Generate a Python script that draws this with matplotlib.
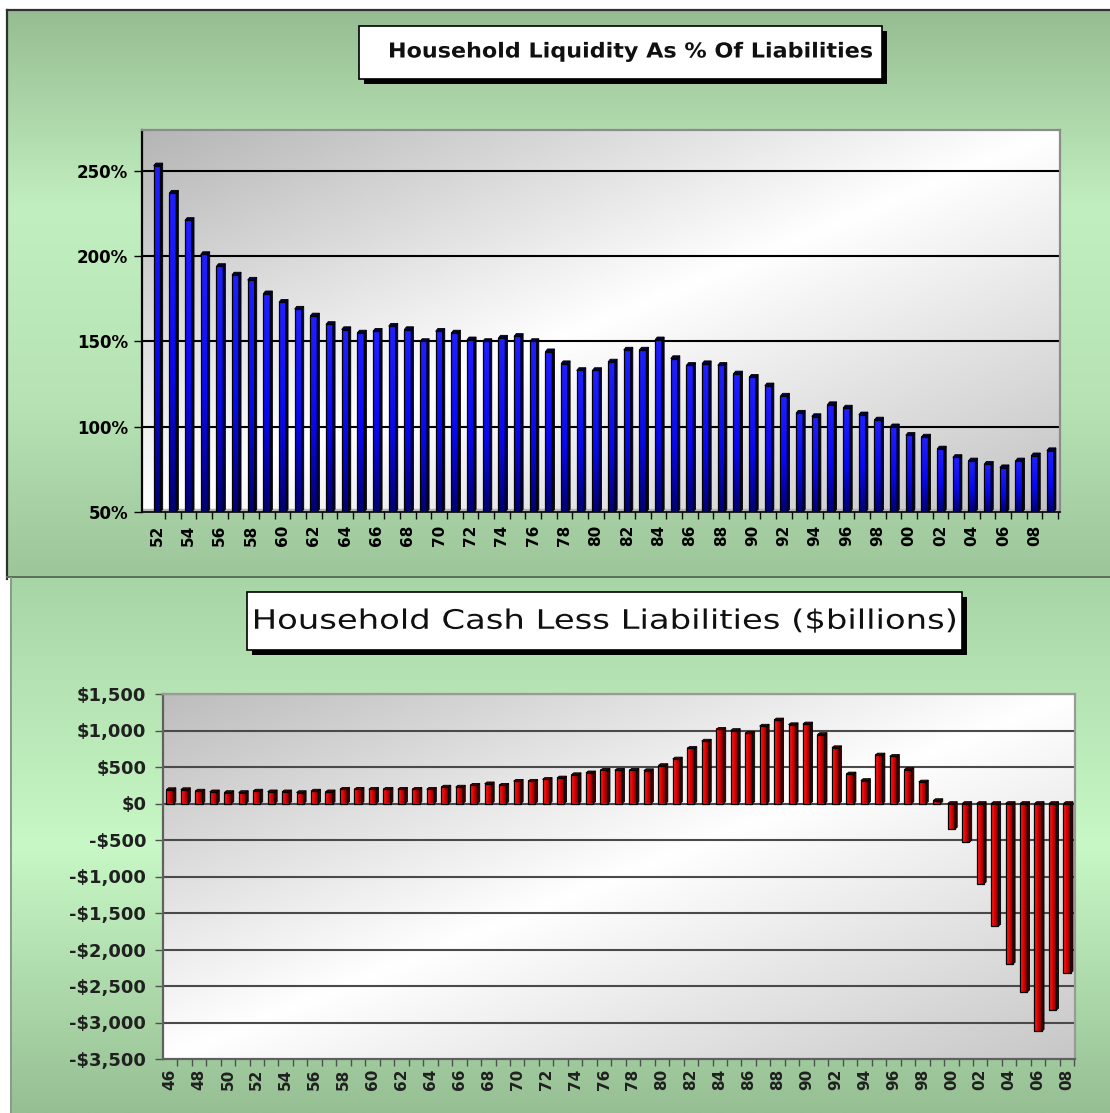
import matplotlib.pyplot as plt
import numpy as np
from matplotlib.patches import Rectangle, Polygon, PathPatch
from matplotlib.colors import to_rgb
from matplotlib.textpath import TextPath
from matplotlib.font_manager import FontProperties
from matplotlib.transforms import Affine2D

W, H = 1110, 1113

# liquidity as % of liabilities, 1952-2009
liq_years = [f'{y % 100:02d}' for y in range(1952, 2010)]
liq_pct = [253, 237, 221, 201, 194, 189, 186, 178, 173, 169,
           165, 160, 157, 155, 156, 159, 157, 150, 156, 155,
           151, 150, 152, 153, 150, 144, 137, 133, 133, 138,
           145, 145, 151, 140, 136, 137, 136, 131, 129, 124,
           118, 108, 106, 113, 111, 107, 104, 100, 95, 94,
           87, 82, 80, 78, 76, 80, 83, 86]
liq_ticks = [50, 100, 150, 200, 250]

# cash less liabilities, $bn, 1946-2008
cash_years = [f'{y % 100:02d}' for y in range(1946, 2009)]
cash_bn = [190, 190, 170, 160, 150, 150, 170, 160, 160, 150,
           170, 160, 195, 195, 195, 195, 195, 195, 195, 225,
           225, 250, 270, 250, 305, 305, 330, 350, 395, 420,
           455, 455, 455, 450, 520, 610, 755, 855, 1015, 1000,
           960, 1060, 1145, 1080, 1090, 945, 765, 405, 315, 665,
           645, 465, 295, 40, -350, -530, -1100, -1680, -2200, -2580,
           -3120, -2830, -2320]
cash_ticks = [-3500, -3000, -2500, -2000, -1500, -1000, -500, 0, 500, 1000, 1500]


def ramp(stops, n=256):
    t = np.linspace(0, 1, n)
    pos = [p for p, _ in stops]
    cols = np.array([to_rgb(c) for _, c in stops])
    return np.stack([np.interp(t, pos, cols[:, k]) for k in range(3)], axis=-1)


def wall_gradient(ax, dark_tl=0.72, dark_br=0.78):
    xx, yy = np.meshgrid(np.linspace(0, 1, 200), np.linspace(0, 1, 200))
    d = (xx + yy) / 2
    g = np.where(d < 0.5, 1 - (1 - dark_tl) * (0.5 - d) * 2, 1 - (1 - dark_br) * (d - 0.5) * 2)
    img = np.dstack([g, g, g])
    ax.imshow(img, extent=(0, 1, 0, 1), transform=ax.transAxes, aspect='auto', zorder=0)


def bars_3d(ax, vals, base, w, dx, dy, grad, side, top, vertical=True):
    for i, v in enumerate(vals):
        x0, x1 = i - w / 2, i + w / 2
        if vertical:
            img = grad[:, None, :]
        else:
            img = grad[None, :, :]
        ax.imshow(img, extent=(x0, x1, min(v, base), max(v, base)), origin='upper',
                  aspect='auto', zorder=3)
        ax.add_patch(Rectangle((x0, min(v, base)), w, abs(v - base), fill=False,
                               edgecolor='black', lw=0.9, zorder=4))
        hi = max(v, base)
        lo = min(v, base)
        ax.add_patch(Polygon([(x1, lo), (x1 + dx, lo + dy), (x1 + dx, hi + dy), (x1, hi)],
                             closed=True, facecolor=side, edgecolor='black', lw=0.6, zorder=4))
        ax.add_patch(Polygon([(x0, hi), (x0 + dx, hi + dy), (x1 + dx, hi + dy), (x1, hi)],
                             closed=True, facecolor=top, edgecolor='black', lw=0.6, zorder=4))


def wide_text(bg, cx, cy, s, width, cap, weight='normal'):
    # text outline stretched to a given width and cap height (bg is in pixel units, y down)
    tp = TextPath((0, 0), s, size=100, prop=FontProperties(family='DejaVu Sans', weight=weight))
    ext = tp.get_extents()
    sx = width / ext.width
    sy = cap / 72.9
    tr = Affine2D().translate(-ext.x0 - ext.width / 2, 0).scale(sx, -sy).translate(cx, cy + cap / 2)
    bg.add_patch(PathPatch(tr.transform_path(tp), facecolor='#101010', lw=0, zorder=4))


def title_box(bg, x, y, w, h):
    bg.add_patch(Rectangle((x + 5, y + 5), w, h, facecolor='black', zorder=2))
    bg.add_patch(Rectangle((x, y), w, h, facecolor='white', edgecolor='black', lw=1.2, zorder=3))


fig = plt.figure(figsize=(W / 100, H / 100), dpi=100)
fig.patch.set_facecolor('white')

# panel backgrounds
bg = fig.add_axes([0, 0, 1, 1])
bg.set_xlim(0, W)
bg.set_ylim(H, 0)
bg.axis('off')
bg.imshow(ramp([(0, '#96bd92'), (0.35, '#c2efc0'), (0.7, '#b6e2b4'), (1, '#9dc69b')])[:, None, :],
          extent=(7, W, 577, 10), aspect='auto', zorder=0)
bg.imshow(ramp([(0, '#a8d5a6'), (0.5, '#c8f8c6'), (1, '#96bf93')])[:, None, :],
          extent=(10, W, H, 578), aspect='auto', zorder=0)
bg.plot([7, 7], [10, 579], color='#303030', lw=1.6, zorder=1)
bg.plot([7, W], [10, 10], color='#303030', lw=1.6, zorder=1)
bg.plot([7, W], [577, 577], color='#5a6e5a', lw=1.4, zorder=1)
bg.plot([11, 11], [578, H], color='#8a9a8a', lw=1.4, zorder=1)

title_box(bg, 359, 26, 523, 53)
wide_text(bg, 631, 50, 'Household Liquidity As % Of Liabilities', 482, 15, weight='bold')
title_box(bg, 247, 592, 715, 58)
wide_text(bg, 605, 619, 'Household Cash Less Liabilities ($billions)', 700, 19.5)
bg.set_xlim(0, W)
bg.set_ylim(H, 0)

# top chart
ax1 = fig.add_axes([142 / W, 1 - 512 / H, 918 / W, 382 / H])
wall_gradient(ax1, 0.71, 0.76)
ax1.axhspan(50, 52, color='#b4b4b4', zorder=1)
for t in liq_ticks[1:]:
    ax1.axhline(t, color='black', lw=1.5, zorder=1)
blue = ramp([(0, '#2020ff'), (0.55, '#0808f0'), (1, '#000070')])
bars_3d(ax1, liq_pct, 50, 0.44, 0.14, 1.6, blue, '#000030', '#00004a')
ax1.set_xlim(-0.96, 57.62)
ax1.set_ylim(50, 274)
ax1.set_yticks(liq_ticks)
ax1.set_yticklabels([f'{t}%' for t in liq_ticks], fontsize=12, fontweight='bold')
ax1.set_xticks(range(0, len(liq_years), 2))
ax1.set_xticklabels(liq_years[::2], rotation=90, fontsize=11, fontweight='bold')
ax1.set_xticks(np.arange(len(liq_years)) + 0.5, minor=True)
ax1.tick_params(axis='x', which='major', length=0, pad=9)
ax1.tick_params(axis='x', which='minor', length=5, width=1, color='black')
ax1.tick_params(axis='y', length=6, width=1, pad=4)
ax1.spines['left'].set(color='black', lw=1.6)
ax1.spines['bottom'].set(color='black', lw=1.2)
ax1.spines['top'].set(color='#8c8c8c', lw=1.6)
ax1.spines['right'].set(color='#8c8c8c', lw=1.6)

# bottom chart
ax2 = fig.add_axes([163 / W, 1 - 1059 / H, 912 / W, 365 / H])
wall_gradient(ax2, 0.74, 0.78)
for t in cash_ticks[1:]:
    ax2.axhline(t, color='#4a4a4a', lw=1.5, zorder=1)
red = ramp([(0, '#ff2a2a'), (0.45, '#e00000'), (1, '#600000')])
bars_3d(ax2, cash_bn, 0, 0.5, 0.16, 25, red, '#3a0000', '#500000', vertical=False)
ax2.set_xlim(-0.48, 62.55)
ax2.set_ylim(-3500, 1500)
ax2.set_yticks(cash_ticks)
ax2.set_yticklabels([f'-${-t:,}' if t < 0 else f'${t:,}' for t in cash_ticks],
                    fontsize=13, fontweight='bold', color='#202020')
ax2.set_xticks(range(0, len(cash_years), 2))
ax2.set_xticklabels(cash_years[::2], rotation=90, fontsize=11, fontweight='bold', color='#202020')
ax2.set_xticks(np.arange(len(cash_years)) + 0.5, minor=True)
ax2.tick_params(axis='x', which='major', length=0, pad=7)
ax2.tick_params(axis='x', which='minor', length=5, width=1, color='#505050')
ax2.tick_params(axis='y', length=6, width=1, color='#505050', pad=6)
for s in ['left', 'bottom']:
    ax2.spines[s].set(color='#606060', lw=1.6)
for s in ['top', 'right']:
    ax2.spines[s].set(color='#9a9a9a', lw=1.6)

fig.savefig('out.png', dpi=100)
